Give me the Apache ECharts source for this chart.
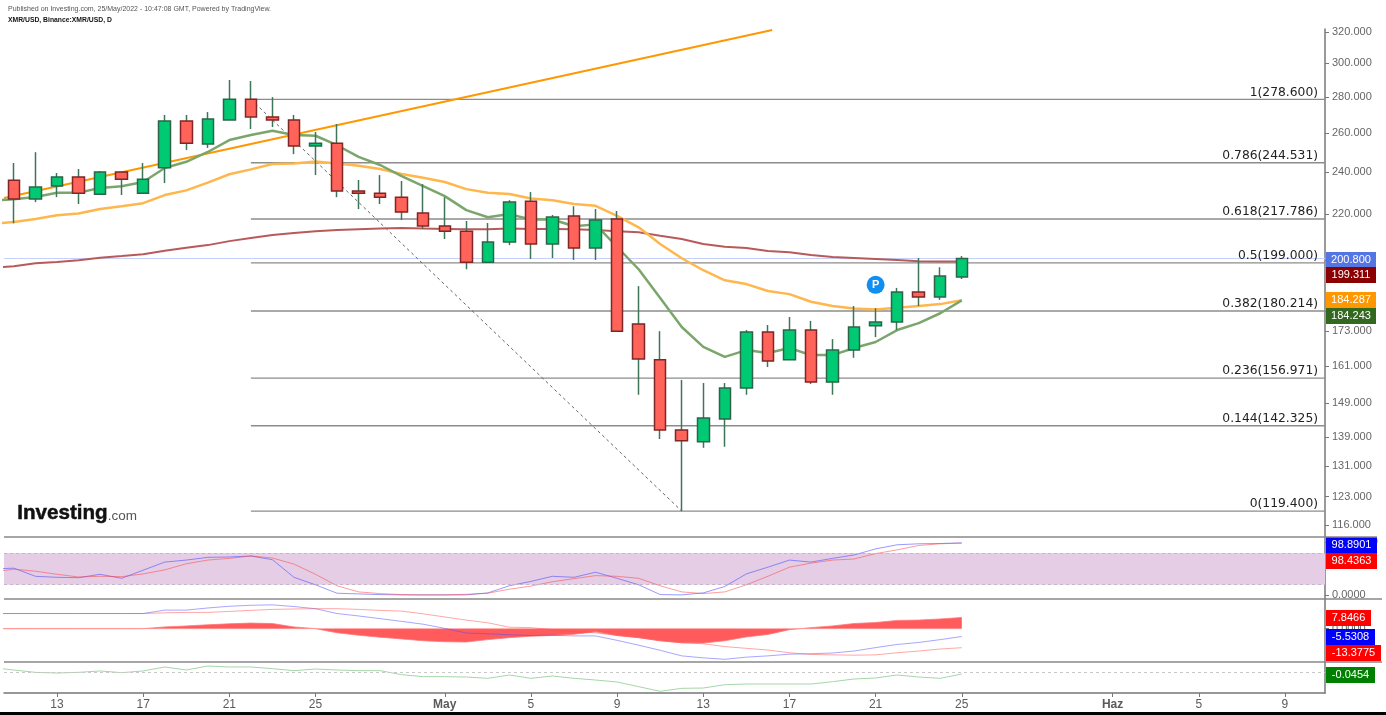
<!DOCTYPE html>
<html>
<head>
<meta charset="utf-8">
<title>XMR/USD</title>
<script src="https://cdn.jsdelivr.net/npm/echarts@6/dist/echarts.min.js"></script>
<style>
html, body { margin: 0; padding: 0; background: #fff; }
#main { width: 1386px; height: 715px; }
</style>
</head>
<body>
<div id="main"></div>
<script>
// day numbers counted from 1 April (May 1 = 31, Jun 1 = 62)
const days = [11, 12, 13, 14, 15, 16, 17, 18, 19, 20, 21, 22, 23, 24, 25, 26, 27, 28, 29, 30, 31, 32, 33, 34, 35, 36, 37, 38, 39, 40, 41, 42, 43, 44, 45, 46, 47, 48, 49, 50, 51, 52, 53, 54, 55]
const opens = [235.9, 226.9, 233.1, 237.5, 229.2, 239.9, 229.7, 242.0, 266.5, 254.1, 267.0, 278.7, 268.7, 267.0, 253.1, 254.6, 230.7, 229.7, 227.8, 220.5, 214.7, 212.4, 199.3, 207.7, 225.9, 206.9, 219.1, 205.2, 217.8, 175.5, 163.0, 141.1, 137.7, 144.3, 153.8, 172.6, 163.0, 173.3, 155.7, 166.3, 174.8, 176.2, 187.4, 185.5, 193.3]
const closes = [226.9, 232.6, 237.5, 229.7, 239.9, 236.4, 236.4, 266.5, 254.6, 267.6, 278.7, 268.7, 267.0, 253.1, 254.6, 230.7, 229.7, 227.8, 220.9, 214.7, 212.4, 199.3, 207.7, 225.5, 206.9, 218.7, 205.2, 217.3, 172.9, 163.3, 141.1, 138.0, 144.6, 153.8, 172.6, 162.6, 173.3, 155.7, 166.3, 174.4, 176.2, 187.4, 185.5, 193.7, 200.8]
const lows = [215.9, 225.5, 227.8, 224.6, 229.2, 228.8, 235.0, 234.5, 251.0, 252.1, 267.0, 262.1, 263.2, 248.9, 238.4, 227.8, 222.3, 224.6, 217.3, 213.4, 209.0, 196.4, 199.3, 206.4, 200.6, 201.0, 200.2, 200.2, 172.9, 151.7, 138.5, 119.4, 136.0, 136.3, 151.7, 160.6, 163.0, 155.1, 151.7, 163.7, 170.8, 173.3, 182.1, 184.4, 192.5]
const highs = [244.4, 249.9, 239.4, 241.4, 240.4, 239.9, 244.4, 269.8, 269.8, 271.4, 289.9, 289.3, 279.9, 269.8, 260.5, 264.8, 236.0, 238.4, 235.5, 234.0, 227.8, 216.9, 216.0, 226.4, 230.2, 219.6, 223.6, 222.3, 221.4, 189.7, 172.9, 156.4, 155.4, 155.4, 173.3, 175.1, 178.0, 176.6, 170.1, 182.1, 181.3, 189.0, 201.0, 197.2, 201.8]

const maDays = [10].concat(days)
const emaFast = [226.2, 226.8, 227.9, 229.9, 229.9, 232.2, 233.0, 235.0, 241.9, 245.0, 250.0, 256.2, 258.9, 261.2, 258.9, 258.5, 253.5, 247.5, 243.4, 237.9, 233.0, 228.3, 221.8, 218.6, 220.0, 217.6, 217.6, 214.6, 215.4, 205.6, 196.4, 185.1, 174.4, 167.4, 164.0, 166.3, 165.3, 167.0, 164.6, 164.6, 167.0, 169.1, 173.3, 175.8, 179.4, 184.2]
const emaSlow = [215.6, 216.5, 217.8, 219.5, 220.3, 222.3, 223.6, 225.0, 228.8, 231.0, 234.7, 238.8, 241.2, 243.9, 244.2, 245.2, 244.2, 243.0, 241.4, 238.9, 237.1, 235.0, 231.6, 229.9, 229.3, 227.2, 226.4, 224.6, 223.8, 219.2, 214.1, 206.9, 200.9, 196.0, 192.0, 190.5, 187.8, 186.6, 183.7, 182.1, 181.2, 180.8, 181.4, 182.1, 182.8, 184.3]
const maLong = [197.0, 197.6, 198.8, 199.4, 200.1, 201.1, 201.8, 202.6, 204.0, 205.3, 206.4, 208.1, 209.4, 210.7, 211.6, 212.4, 212.9, 213.3, 213.6, 213.8, 213.6, 213.4, 213.2, 213.3, 213.6, 213.4, 213.4, 213.2, 212.9, 212.4, 211.9, 210.4, 209.0, 206.9, 205.7, 205.2, 203.9, 203.4, 202.2, 201.4, 201.0, 200.6, 200.2, 199.7, 199.6, 199.6]

const fibRatios = ['1', '0.786', '0.618', '0.5', '0.382', '0.236', '0.144', '0']
const fibPrices = [278.6, 244.531, 217.786, 199, 180.214, 156.971, 142.325, 119.4]
const trendDays = [10.54, 46.2]
const trendPrices = [227.4, 321.3]
const swingDays = [22, 42]
const swingPrices = [278.6, 119.4]
const lastPrice = 200.8
const pivotDay = 51
const pivotPrice = 190.2

const stochK = [49.9, 51.2, 35.9, 34.0, 33.3, 39.7, 32.1, 47.4, 62.7, 66.5, 71.6, 72.3, 74.2, 67.2, 34.0, 19.9, 4.0, 2.7, 1.4, 0.8, 0.8, 0.8, 0.8, 4.6, 18.0, 26.3, 35.9, 34.0, 43.6, 32.1, 19.9, 1.4, 0.8, 4.6, 16.7, 40.4, 53.1, 66.5, 62.7, 69.7, 76.1, 87.6, 95.3, 97.2, 97.8, 98.89]
const stochD = [44.2, 49.3, 45.5, 39.7, 34.6, 35.9, 35.2, 40.4, 48.0, 59.5, 66.5, 69.7, 74.2, 70.4, 58.9, 39.7, 18.0, 6.5, 3.3, 1.4, 0.8, 0.8, 2.0, 4.0, 11.6, 17.4, 25.7, 31.4, 37.2, 35.9, 32.1, 18.0, 6.5, 3.3, 6.5, 19.9, 35.9, 53.1, 60.8, 66.5, 68.5, 78.7, 85.7, 94.0, 97.2, 98.44]

const macdLine = [10.6, 10.6, 10.6, 10.6, 10.6, 10.6, 10.6, 10.6, 13.0, 13.0, 14.5, 15.7, 16.4, 16.7, 15.5, 14.0, 10.6, 8.9, 7.0, 5.1, 3.1, 0.2, -3.1, -3.6, -4.3, -4.8, -4.6, -5.1, -5.1, -8.2, -11.6, -15.2, -19.1, -20.5, -21.5, -20.0, -19.1, -17.9, -17.6, -17.1, -15.7, -13.3, -11.1, -9.7, -7.7, -5.53]
const macdSignal = [10.6, 10.6, 10.6, 10.6, 10.6, 10.6, 10.6, 10.6, 11.1, 11.4, 11.4, 12.1, 12.8, 13.5, 13.8, 14.0, 14.0, 13.5, 12.8, 12.3, 10.4, 8.2, 6.0, 4.1, 1.0, 0.7, -0.7, -2.2, -2.9, -4.8, -6.3, -8.5, -9.9, -10.6, -12.6, -13.8, -15.0, -16.9, -18.1, -18.4, -18.6, -18.4, -16.9, -15.7, -14.3, -13.38]
const macdHist = [0, 0, 0, 0, 0, 0, 0, 0, 1.2, 1.9, 2.7, 3.4, 3.9, 3.6, 1.2, 0, -2.9, -4.6, -6.0, -7.2, -8.5, -9.2, -9.4, -7.7, -6.3, -5.3, -4.8, -3.9, -2.2, -4.8, -6.3, -8.5, -9.9, -10.1, -8.5, -5.8, -4.1, -0.7, 0.7, 1.9, 3.6, 4.3, 5.8, 6.0, 6.8, 7.85]

const momentum = [0.098, 0.045, -0.008, -0.023, -0.008, 0.023, -0.015, 0.023, 0.114, 0.045, 0.136, 0.114, 0.114, 0.076, 0.03, 0.068, 0.045, 0.03, 0.03, -0.061, -0.106, -0.106, -0.114, -0.144, -0.068, -0.144, -0.091, -0.144, -0.182, -0.227, -0.333, -0.439, -0.371, -0.364, -0.288, -0.273, -0.273, -0.273, -0.273, -0.22, -0.159, -0.136, -0.068, -0.114, -0.144, -0.0454]

const dayTicks = [13, 17, 21, 25, 31, 35, 39, 43, 47, 51, 55, 62, 66, 70]
const dayLabels = ['13', '17', '21', '25', 'May', '5', '9', '13', '17', '21', '25', 'Haz', '5', '9']
const priceTicks = [320, 300, 280, 260, 240, 220, 200, 180, 173, 161, 149, 139, 131, 123, 116]
const stochTicks = [100, 0]
const macdTicks = [0]

// last value tags on the right side
const tagTexts = ['200.800', '199.311', '184.287', '184.243', '98.8901', '98.4363', '7.8466', '-5.5308', '-13.3775', '-0.0454']

const SANS = '"Liberation Sans", Arial, sans-serif'
const X_MIN = 10.54
const X_MAX = 71.86

const chart = echarts.init(document.getElementById('main'))

const grids = [
  { left: 4, right: 61, top: 29, height: 508 },
  { left: 4, right: 61, top: 537, height: 62 },
  { left: 4, right: 61, top: 599, height: 63 },
  { left: 4, right: 61, top: 662, height: 31 }
]

const xAxes = grids.map((g, i) => ({
  type: 'value',
  gridIndex: i,
  min: X_MIN,
  max: X_MAX,
  splitLine: { show: false },
  axisLine: { show: i === 3, onZero: false, lineStyle: { color: '#777', width: 1.5 } },
  axisTick: i === 3 ? { show: true, length: 4, customValues: dayTicks, lineStyle: { color: '#777' } } : { show: false },
  axisLabel: i === 3 ? {
    show: true,
    customValues: dayTicks,
    margin: 6,
    hideOverlap: false,
    fontFamily: SANS,
    fontSize: 12,
    color: '#5a5a5a',
    formatter: v => {
      const label = dayLabels[dayTicks.indexOf(v)]
      return label === 'May' || label === 'Haz' ? '{b|' + label + '}' : label
    },
    rich: { b: { fontFamily: SANS, fontSize: 12, fontWeight: 'bold', color: '#5a5a5a' } }
  } : { show: false }
}))

function yAxisBase(i, min, max, ticks, digits) {
  return {
    type: 'value',
    gridIndex: i,
    position: 'right',
    min: min,
    max: max,
    scale: true,
    splitLine: { show: false },
    axisLine: { show: true, onZero: false, lineStyle: { color: '#777', width: 1.5 } },
    axisTick: { show: ticks.length > 0, length: 4, customValues: ticks, lineStyle: { color: '#777' } },
    axisLabel: {
      show: ticks.length > 0,
      customValues: ticks,
      margin: 7,
      hideOverlap: false,
      showMinLabel: true,
      showMaxLabel: true,
      fontFamily: SANS,
      fontSize: 11,
      color: '#666',
      formatter: v => Number(v).toFixed(digits)
    }
  }
}

const priceAxis = yAxisBase(0, 113.2, 322, priceTicks, 3)
priceAxis.type = 'log'
priceAxis.logBase = Math.E
delete priceAxis.scale

const yAxes = [
  priceAxis,
  yAxisBase(1, -6.9, 110, stochTicks, 4),
  yAxisBase(2, -23.4, 20.8, macdTicks, 4),
  yAxisBase(3, -0.477, 0.227, [], 4)
]

function pairs(xs, ys) {
  return xs.map((x, i) => [x, ys[i]])
}

function lineSeries(name, grid, xs, ys, color, width, z, extra) {
  return Object.assign({
    name: name,
    type: 'line',
    xAxisIndex: grid,
    yAxisIndex: grid,
    data: pairs(xs, ys),
    symbol: 'none',
    silent: true,
    animation: false,
    z: z,
    lineStyle: { color: color, width: width }
  }, extra || {})
}

const wickData = days.map((d, i) => [d, opens[i], closes[i], lows[i], highs[i]])
const bodyData = days.map((d, i) => [d, opens[i], closes[i], Math.min(opens[i], closes[i]), Math.max(opens[i], closes[i])])

const fibSeries = fibPrices.map((p, i) => lineSeries('fib ' + fibRatios[i], 0, [22, X_MAX], [p, p], '#8c8c8c', 1.4, 1, {
  endLabel: {
    show: true,
    align: 'right',
    verticalAlign: 'bottom',
    distance: 0,
    offset: [-7, -1],
    formatter: fibRatios[i] + '(' + p.toFixed(3) + ')',
    fontFamily: '"DejaVu Sans", sans-serif',
    fontSize: 12.3,
    color: '#222'
  }
}))

const series = [
  ...fibSeries,
  lineSeries('last', 0, [X_MIN, X_MAX], [lastPrice, lastPrice], '#c5d0fb', 1.2, 1),
  lineSeries('trend', 0, trendDays, trendPrices, '#ff9800', 2, 2),
  lineSeries('swing', 0, swingDays, swingPrices, '#666', 1, 2, {
    lineStyle: { color: '#666', width: 1, type: [3, 3] }
  }),
  lineSeries('ma long', 0, maDays, maLong, '#b85a5a', 2, 3),
  lineSeries('ema slow', 0, maDays, emaSlow, '#ffb74d', 2.5, 3),
  lineSeries('ema fast', 0, maDays, emaFast, '#7ba66b', 2.5, 3),
  {
    name: 'wicks',
    type: 'candlestick',
    xAxisIndex: 0,
    yAxisIndex: 0,
    encode: { x: 0, y: [1, 2, 3, 4] },
    data: wickData,
    barWidth: 1,
    silent: true,
    animation: false,
    z: 4,
    itemStyle: { color: '#2e6b4a', color0: '#2e6b4a', borderColor: '#3d7558', borderColor0: '#3d7558', borderWidth: 1.5 }
  },
  {
    name: 'bodies',
    type: 'candlestick',
    xAxisIndex: 0,
    yAxisIndex: 0,
    encode: { x: 0, y: [1, 2, 3, 4] },
    data: bodyData,
    barWidth: 12,
    silent: true,
    animation: false,
    z: 5,
    itemStyle: { color: '#00c974', color0: '#ff6359', borderColor: '#2c6448', borderColor0: '#7f2626', borderWidth: 1.5 }
  },
  {
    name: 'pivot',
    type: 'scatter',
    xAxisIndex: 0,
    yAxisIndex: 0,
    data: [[pivotDay, pivotPrice]],
    symbolSize: 18,
    silent: true,
    animation: false,
    z: 6,
    itemStyle: { color: '#0f8ff2', opacity: 1 },
    label: { show: true, position: 'inside', formatter: 'P', color: '#fff', fontFamily: SANS, fontWeight: 'bold', fontSize: 11 }
  },
  lineSeries('stoch band', 1, [X_MIN, X_MAX], [80, 80], 'rgba(0,0,0,0)', 0, 1, {
    markArea: {
      silent: true,
      animation: false,
      itemStyle: { color: '#e5cde6' },
      data: [[{ yAxis: 80 }, { yAxis: 20 }]]
    },
    markLine: {
      silent: true,
      animation: false,
      symbol: 'none',
      label: { show: false },
      lineStyle: { color: '#c4b6c4', type: [3, 3], width: 1 },
      data: [{ yAxis: 80 }, { yAxis: 20 }]
    }
  }),
  lineSeries('stoch k', 1, maDays, stochK, 'rgba(70,70,255,0.55)', 1, 3),
  lineSeries('stoch d', 1, maDays, stochD, 'rgba(255,60,60,0.5)', 1, 3),
  lineSeries('macd hist', 2, maDays, macdHist, 'rgba(255,120,120,0.8)', 1, 2, {
    areaStyle: { color: '#ff5a5c', opacity: 1 }
  }),
  lineSeries('macd zero', 2, [X_MIN, 55], [0, 0], 'rgba(255,150,150,0.7)', 1, 2),
  lineSeries('macd', 2, maDays, macdLine, 'rgba(80,80,255,0.5)', 1, 3),
  lineSeries('signal', 2, maDays, macdSignal, 'rgba(255,80,80,0.5)', 1, 3),
  lineSeries('momentum', 3, maDays, momentum, '#a5d6a7', 1, 3, {
    markLine: {
      silent: true,
      animation: false,
      symbol: 'none',
      label: { show: false },
      lineStyle: { color: '#c8c8c8', type: [3, 3], width: 1 },
      data: [{ yAxis: 0 }]
    }
  })
]

// pane separators, header, logo and value tags
const tagLayout = [
  { top: 252, width: 50, color: '#5575e3' },
  { top: 267, width: 50, color: '#8b0000' },
  { top: 292, width: 50, color: '#ff9800' },
  { top: 308, width: 50, color: '#33691e' },
  { top: 537, width: 51, color: '#0000ff' },
  { top: 553, width: 51, color: '#ff0000' },
  { top: 610, width: 45, color: '#ff0000' },
  { top: 629, width: 49, color: '#0000ff' },
  { top: 645, width: 55, color: '#ff0000' },
  { top: 667, width: 49, color: '#008000' }
]

const graphics = []
tagTexts.forEach((text, i) => {
  const t = tagLayout[i]
  graphics.push({ type: 'rect', z: 20, shape: { x: 1326, y: t.top, width: t.width, height: 16 }, style: { fill: t.color } })
  graphics.push({
    type: 'text',
    z: 21,
    x: 1326 + t.width / 2,
    y: t.top + 8,
    style: { text: text, fill: '#fff', font: '11px ' + SANS, textAlign: 'center', textVerticalAlign: 'middle' }
  })
})
;[[537, 1377], [599, 1382], [662, 1382]].forEach(s => {
  graphics.push({ type: 'line', z: 22, shape: { x1: 4, y1: s[0], x2: s[1], y2: s[0] }, style: { stroke: '#888', lineWidth: 1.5 } })
})
graphics.push({ type: 'rect', z: 22, shape: { x: 0, y: 712, width: 1386, height: 3 }, style: { fill: '#000' } })
graphics.push({
  type: 'text',
  left: 8,
  top: 6,
  style: { text: 'Published on Investing.com, 25/May/2022 - 10:47:08 GMT, Powered by TradingView.', fill: '#555', font: '7px ' + SANS }
})
graphics.push({
  type: 'text',
  left: 8,
  top: 17,
  style: { text: 'XMR/USD, Binance:XMR/USD, D', fill: '#111', font: 'bold 6.8px ' + SANS }
})
graphics.push({
  type: 'text',
  left: 17,
  top: 503,
  z: 10,
  style: {
    text: '{a|Investing}{b|.com}',
    rich: {
      a: { font: 'bold 20.6px ' + SANS, fill: '#111', stroke: '#111', lineWidth: 0.5 },
      b: { font: '13.5px ' + SANS, fill: '#555', padding: [5, 0, 0, 0] }
    }
  }
})

chart.setOption({
  animation: false,
  backgroundColor: '#fff',
  grid: grids,
  xAxis: xAxes,
  yAxis: yAxes,
  series: series,
  graphic: graphics
})
</script>
</body>
</html>
